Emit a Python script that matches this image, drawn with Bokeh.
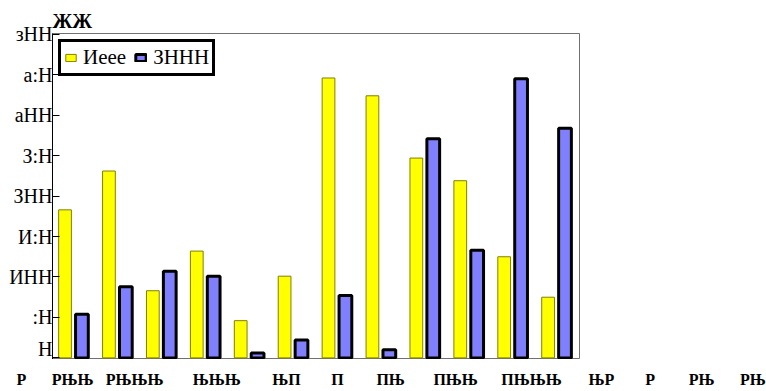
from bokeh.plotting import figure
from bokeh.layouts import column
from bokeh.models import Range1d, FixedTicker, Legend, LegendItem, ColumnDataSource
from bokeh.embed import file_html
from bokeh.resources import INLINE

# ---- data ----
title_text = "ЖЖ"
series_names = ["Иеее", "ЗННН"]
groups = list(range(12))
yellow_vals = [183, 231, 83, 132, 46, 101, 346, 324, 247, 219, 125, 75]
blue_vals = [54, 88, 107, 101, 6, 22, 77, 10, 271, 133, 345, 284]

y_tick_values = [0, 50, 100, 150, 200, 250, 300, 350, 400]
y_tick_labels = ["Н", ":Н", "ИНН", "И:Н", "ЗНН", "З:Н", "аНН", "а:Н", "зНН"]

x_labels = ["Р", "РЊЊ", "РЊЊЊ", "ЊЊЊ", "ЊП", "П", "ПЊ", "ПЊЊ", "ПЊЊЊ", "ЊР", "Р", "РЊ", "РЊ"]
x_label_pos = [-0.71, 0.46, 1.87, 3.74, 5.33, 6.49, 7.7, 9.18, 10.91, 12.5, 13.61, 14.78, 15.95]

SERIF = "Liberation Serif"

# layout sizes (pixels)
LEFT, FRAME_W, RIGHT = 52, 527, 187
TOP, FRAME_H = 33, 326
px_per_unit = FRAME_W / len(groups)

p = figure(frame_width=FRAME_W, frame_height=FRAME_H, output_backend="svg", toolbar_location=None,
           x_range=Range1d(0, len(groups)), y_range=Range1d(-2, 401),
           min_border_left=LEFT, min_border_right=RIGHT, min_border_top=TOP, min_border_bottom=0,
           title=title_text)
p.frame_align = False

p.title.text_font = SERIF
p.title.text_font_size = "20px"
p.title.text_font_style = "bold"
p.title.text_color = "black"
p.title.align = "left"
p.title.standoff = 4

p.outline_line_color = "#707070"
p.xgrid.visible = False
p.ygrid.visible = False
p.background_fill_color = "white"
p.border_fill_color = "white"

# y axis
p.yaxis.ticker = FixedTicker(ticks=y_tick_values)
p.yaxis.major_label_overrides = {v: t for v, t in zip(y_tick_values, y_tick_labels)}
p.yaxis.major_label_text_font = SERIF
p.yaxis.major_label_text_font_size = "20px"
p.yaxis.major_label_text_color = "black"
p.yaxis.major_label_standoff = 0
p.yaxis.major_tick_in = 7
p.yaxis.major_tick_out = 0
p.yaxis.major_tick_line_color = "black"
p.yaxis.minor_tick_line_color = None
p.yaxis.axis_line_color = "black"

# x axis of the main plot: only its line
p.xaxis.ticker = FixedTicker(ticks=[])
p.xaxis.major_tick_line_color = None
p.xaxis.minor_tick_line_color = None
p.xaxis.major_tick_out = 0
p.xaxis.major_tick_in = 0
p.xaxis.major_label_standoff = 0
p.xaxis.major_label_text_font_size = "0px"
p.xaxis.axis_line_color = "black"

src = ColumnDataSource(dict(
    xy=[g + 0.5 - 0.215 for g in groups],
    xb=[g + 0.5 + 0.17 for g in groups],
    yv=yellow_vals,
    bv=blue_vals,
))

ry = p.vbar(x="xy", top="yv", bottom=0, width=0.29, source=src,
            fill_color="#ffff00", line_color="#808000", line_width=1)
rb = p.vbar(x="xb", top="bv", bottom=0, width=0.29, source=src,
            fill_color="#8080ff", line_color="black", line_width=3)

legend = Legend(items=[LegendItem(label=series_names[0], renderers=[ry]),
                       LegendItem(label=series_names[1], renderers=[rb])],
                location="top_left", orientation="horizontal",
                border_line_color="black", border_line_width=3, border_line_alpha=1,
                background_fill_color="white", background_fill_alpha=1,
                label_text_font=SERIF, label_text_font_size="21px", label_text_color="black",
                glyph_width=13, glyph_height=9, padding=3, spacing=8,
                label_standoff=6, margin=6, label_height=20)
p.add_layout(legend)

# strip below, spanning the whole width, carrying the category-axis labels
total_w = LEFT + FRAME_W + RIGHT
strip = figure(frame_width=total_w, frame_height=1, output_backend="svg", toolbar_location=None,
               x_range=Range1d(-LEFT / px_per_unit, (FRAME_W + RIGHT) / px_per_unit),
               y_range=Range1d(0, 1),
               min_border_left=0, min_border_right=0, min_border_top=0, min_border_bottom=0,
               y_axis_location=None, x_axis_location="below")
strip.frame_align = False
strip.outline_line_color = None
strip.xgrid.visible = False
strip.ygrid.visible = False
strip.background_fill_color = "white"
strip.border_fill_color = "white"
strip.xaxis.ticker = FixedTicker(ticks=x_label_pos)
strip.xaxis.major_label_overrides = {v: t for v, t in zip(x_label_pos, x_labels)}
strip.xaxis.axis_line_color = None
strip.xaxis.major_tick_line_color = None
strip.xaxis.minor_tick_line_color = None
strip.xaxis.major_tick_out = 0
strip.xaxis.major_tick_in = 0
strip.xaxis.major_label_standoff = 10
strip.xaxis.major_label_text_font = SERIF
strip.xaxis.major_label_text_font_size = "16px"
strip.xaxis.major_label_text_font_style = "bold"
strip.xaxis.major_label_text_color = "black"

layout = column(p, strip, spacing=0)

open("out.html", "w").write(file_html(layout, INLINE))
